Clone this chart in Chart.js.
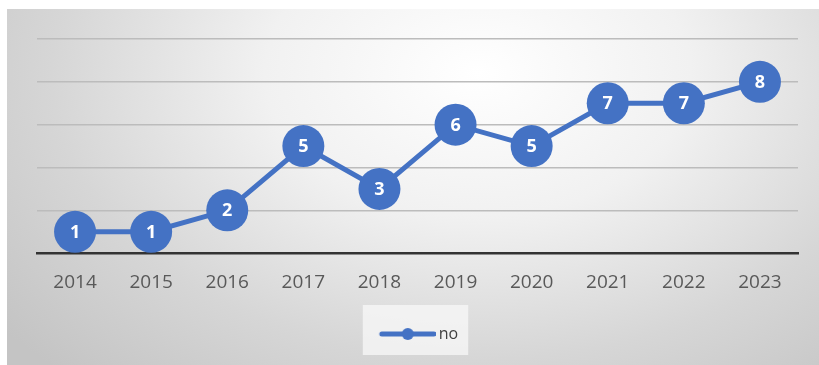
<!DOCTYPE html>
<html>
<head>
<meta charset="utf-8">
<script src="https://cdn.jsdelivr.net/npm/chart.js@4.4.1/dist/chart.umd.min.js"></script>
<style>
  html, body { margin: 0; padding: 0; background: #fff; }
  #box {
    position: absolute; left: 7px; top: 9px; width: 812px; height: 356px;
    background: radial-gradient(ellipse 75% 115% at 58% 18%, #ffffff 0%, #f1f1f1 35%, #d6d6d6 70%, #c4c4c4 100%);
  }
</style>
</head>
<body>
<div id="box"><canvas id="lineChart" width="812" height="356"></canvas></div>
<script>
// chart data
var years = ['2014', '2015', '2016', '2017', '2018', '2019', '2020', '2021', '2022', '2023'];
var counts = [1, 1, 2, 5, 3, 6, 5, 7, 7, 8];
var seriesName = 'no';

var blue = '#4472C4';

// legend marker: line with a dot in the middle
var marker = document.createElement('canvas');
marker.width = 62;
marker.height = 14;
var mctx = marker.getContext('2d');
mctx.strokeStyle = blue;
mctx.lineWidth = 5;
mctx.lineCap = 'round';
mctx.beginPath();
mctx.moveTo(8, 7);
mctx.lineTo(60, 7);
mctx.stroke();
mctx.fillStyle = blue;
mctx.beginPath();
mctx.arc(34, 7, 6, 0, Math.PI * 2);
mctx.fill();

// white numbers inside the points
var valueLabels = {
  id: 'valueLabels',
  afterDatasetsDraw: function(chart) {
    var ctx = chart.ctx;
    var meta = chart.getDatasetMeta(0);
    ctx.save();
    ctx.fillStyle = '#ffffff';
    ctx.font = 'bold 18px "Open Sans"';
    ctx.textAlign = 'center';
    ctx.textBaseline = 'middle';
    meta.data.forEach(function(pt, i) {
      ctx.fillText(String(chart.data.datasets[0].data[i]), pt.x, pt.y + 1);
    });
    ctx.restore();
  }
};

// lighter panel behind the legend
var legendPanel = {
  id: 'legendPanel',
  beforeDraw: function(chart) {
    var lg = chart.legend;
    if (!lg || !lg.legendItems) return;
    var hit = lg.legendHitBoxes[0];
    if (!hit) return;
    var ctx = chart.ctx;
    ctx.save();
    ctx.fillStyle = 'rgba(248,248,248,0.75)';
    ctx.fillRect(hit.left - 16, hit.top - 21, hit.width + 26, hit.height + 34);
    ctx.restore();
  }
};

var ctx = document.getElementById('lineChart').getContext('2d');
new Chart(ctx, {
  type: 'line',
  data: {
    labels: years,
    datasets: [{
      label: seriesName,
      data: counts,
      borderColor: blue,
      backgroundColor: blue,
      borderWidth: 5,
      pointRadius: 21,
      pointHoverRadius: 21,
      pointBackgroundColor: blue,
      pointBorderColor: blue,
      pointBorderWidth: 0,
      tension: 0,
      clip: false
    }]
  },
  options: {
    responsive: false,
    animation: false,
    layout: { padding: { left: 30, right: 19, top: 30, bottom: 13 } },
    plugins: {
      tooltip: { enabled: false },
      legend: {
        position: 'bottom',
        labels: {
          usePointStyle: true,
          pointStyleWidth: 52,
          padding: 14,
          color: '#404040',
          font: { family: '"Open Sans"', size: 16 },
          generateLabels: function(chart) {
            return [{
              text: seriesName,
              pointStyle: marker,
              fillStyle: blue,
              strokeStyle: blue,
              lineWidth: 0,
              fontColor: '#404040',
              datasetIndex: 0
            }];
          }
        }
      }
    },
    scales: {
      x: {
        offset: true,
        grid: { display: false, drawTicks: false },
        border: { display: true, color: '#333333', width: 2.5 },
        ticks: {
          padding: 18,
          color: '#595959',
          font: { family: '"Open Sans"', size: 19 }
        }
      },
      y: {
        min: 0,
        max: 10,
        ticks: { display: false, stepSize: 2 },
        border: { display: false },
        grid: {
          drawTicks: false,
          lineWidth: 1.5,
          color: function(c) {
            return c.tick && c.tick.value === 0 ? 'rgba(0,0,0,0)' : '#bcbcbc';
          }
        }
      }
    }
  },
  plugins: [legendPanel, valueLabels]
});
</script>
</body>
</html>
